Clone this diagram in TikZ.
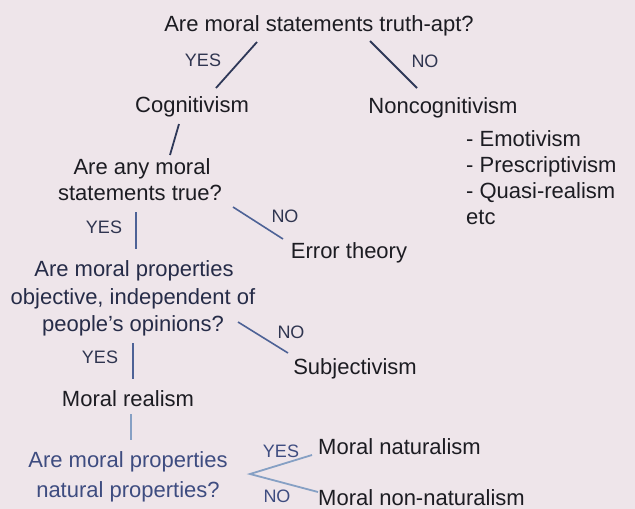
\documentclass[tikz,border=0pt]{standalone}
\usepackage{fontspec}
\setmainfont{Liberation Sans}
\definecolor{bgpink}{HTML}{EEE5EA}
\definecolor{txt}{HTML}{1C1C22}
\definecolor{navytxt}{HTML}{262C48}
\definecolor{lbltxt}{HTML}{2F3550}
\definecolor{navy}{HTML}{2E3858}
\definecolor{midblue}{HTML}{4D6296}
\definecolor{bluetxt}{HTML}{3E4C80}
\definecolor{blueline}{HTML}{86A0C4}
\begin{document}
\begin{tikzpicture}[x=1pt,y=-1pt,
  big/.style={inner sep=0pt,anchor=base,text=txt,font=\fontsize{22}{26}\selectfont},
  lbl/.style={inner sep=0pt,anchor=base,text=lbltxt,font=\fontsize{18}{22}\selectfont},
  conn/.style={draw=navy,line width=1.8pt},
  mconn/.style={draw=midblue,line width=1.6pt},
  bconn/.style={draw=blueline,line width=1.8pt}]
\fill[bgpink] (0,0) rectangle (635,509);
\useasboundingbox (0,0) rectangle (635,509);
% texts
\node[big] (q1) at (319,31) {Are moral statements truth-apt?};
\node[lbl] (yes1) at (203,66) {YES};
\node[lbl] (no1) at (425,67) {NO};
\node[big] (cog) at (192,112) {Cognitivism};
\node[big] (noncog) at (443,113) {Noncognitivism};
\node[big,anchor=base west] (l1) at (466,146) {- Emotivism};
\node[big,anchor=base west] (l2) at (466,172) {- Prescriptivism};
\node[big,anchor=base west] (l3) at (466,198) {- Quasi-realism};
\node[big,anchor=base west] (l4) at (466,224) {etc};
\node[big] (q2a) at (142,174) {Are any moral};
\node[big] (q2b) at (140,200) {statements true?};
\node[lbl] (yes2) at (104,233) {YES};
\node[lbl] (no2) at (285,222) {NO};
\node[big] (err) at (349,258) {Error theory};
\node[big,text=navytxt] (q3a) at (134,276) {Are moral properties};
\node[big,text=navytxt] (q3b) at (133,304) {objective, independent of};
\node[big,text=navytxt] (q3c) at (133,331) {people’s opinions?};
\node[lbl] (no3) at (291,338) {NO};
\node[lbl] (yes3) at (100,363) {YES};
\node[big] (subj) at (355,374) {Subjectivism};
\node[big] (real) at (128,406) {Moral realism};
\node[big,text=bluetxt] (q4a) at (128,467) {Are moral properties};
\node[big,text=bluetxt] (q4b) at (128,497) {natural properties?};
\node[lbl,text=bluetxt] (yes4) at (281,457) {YES};
\node[lbl,text=bluetxt] (no4) at (277,502) {NO};
\node[big,anchor=base west] (nat) at (318,454) {Moral naturalism};
\node[big,anchor=base west] (nonnat) at (318,505) {Moral non-naturalism};
% connector end points
\coordinate (a1) at (257,42); \coordinate (a2) at (216,88);
\coordinate (b1) at (370,41); \coordinate (b2) at (417,88);
\coordinate (c1) at (179,124); \coordinate (c2) at (170,155);
\coordinate (d1) at (136,212); \coordinate (d2) at (136,249);
\coordinate (e1) at (233,207); \coordinate (e2) at (283,239);
\coordinate (f1) at (238,322); \coordinate (f2) at (288,353);
\coordinate (g1) at (133,343); \coordinate (g2) at (133,379);
\coordinate (h1) at (131,414); \coordinate (h2) at (131,440);
\coordinate (k1) at (312,455); \coordinate (k2) at (250,474); \coordinate (k3) at (318,492);
% connectors
\draw[conn] (a1) -- (a2);
\draw[conn] (b1) -- (b2);
\draw[conn] (c1) -- (c2);
\draw[mconn] (d1) -- (d2);
\draw[mconn] (e1) -- (e2);
\draw[mconn] (f1) -- (f2);
\draw[mconn] (g1) -- (g2);
\draw[bconn] (h1) -- (h2);
\draw[bconn] (k1) -- (k2) -- (k3);
\end{tikzpicture}
\end{document}
